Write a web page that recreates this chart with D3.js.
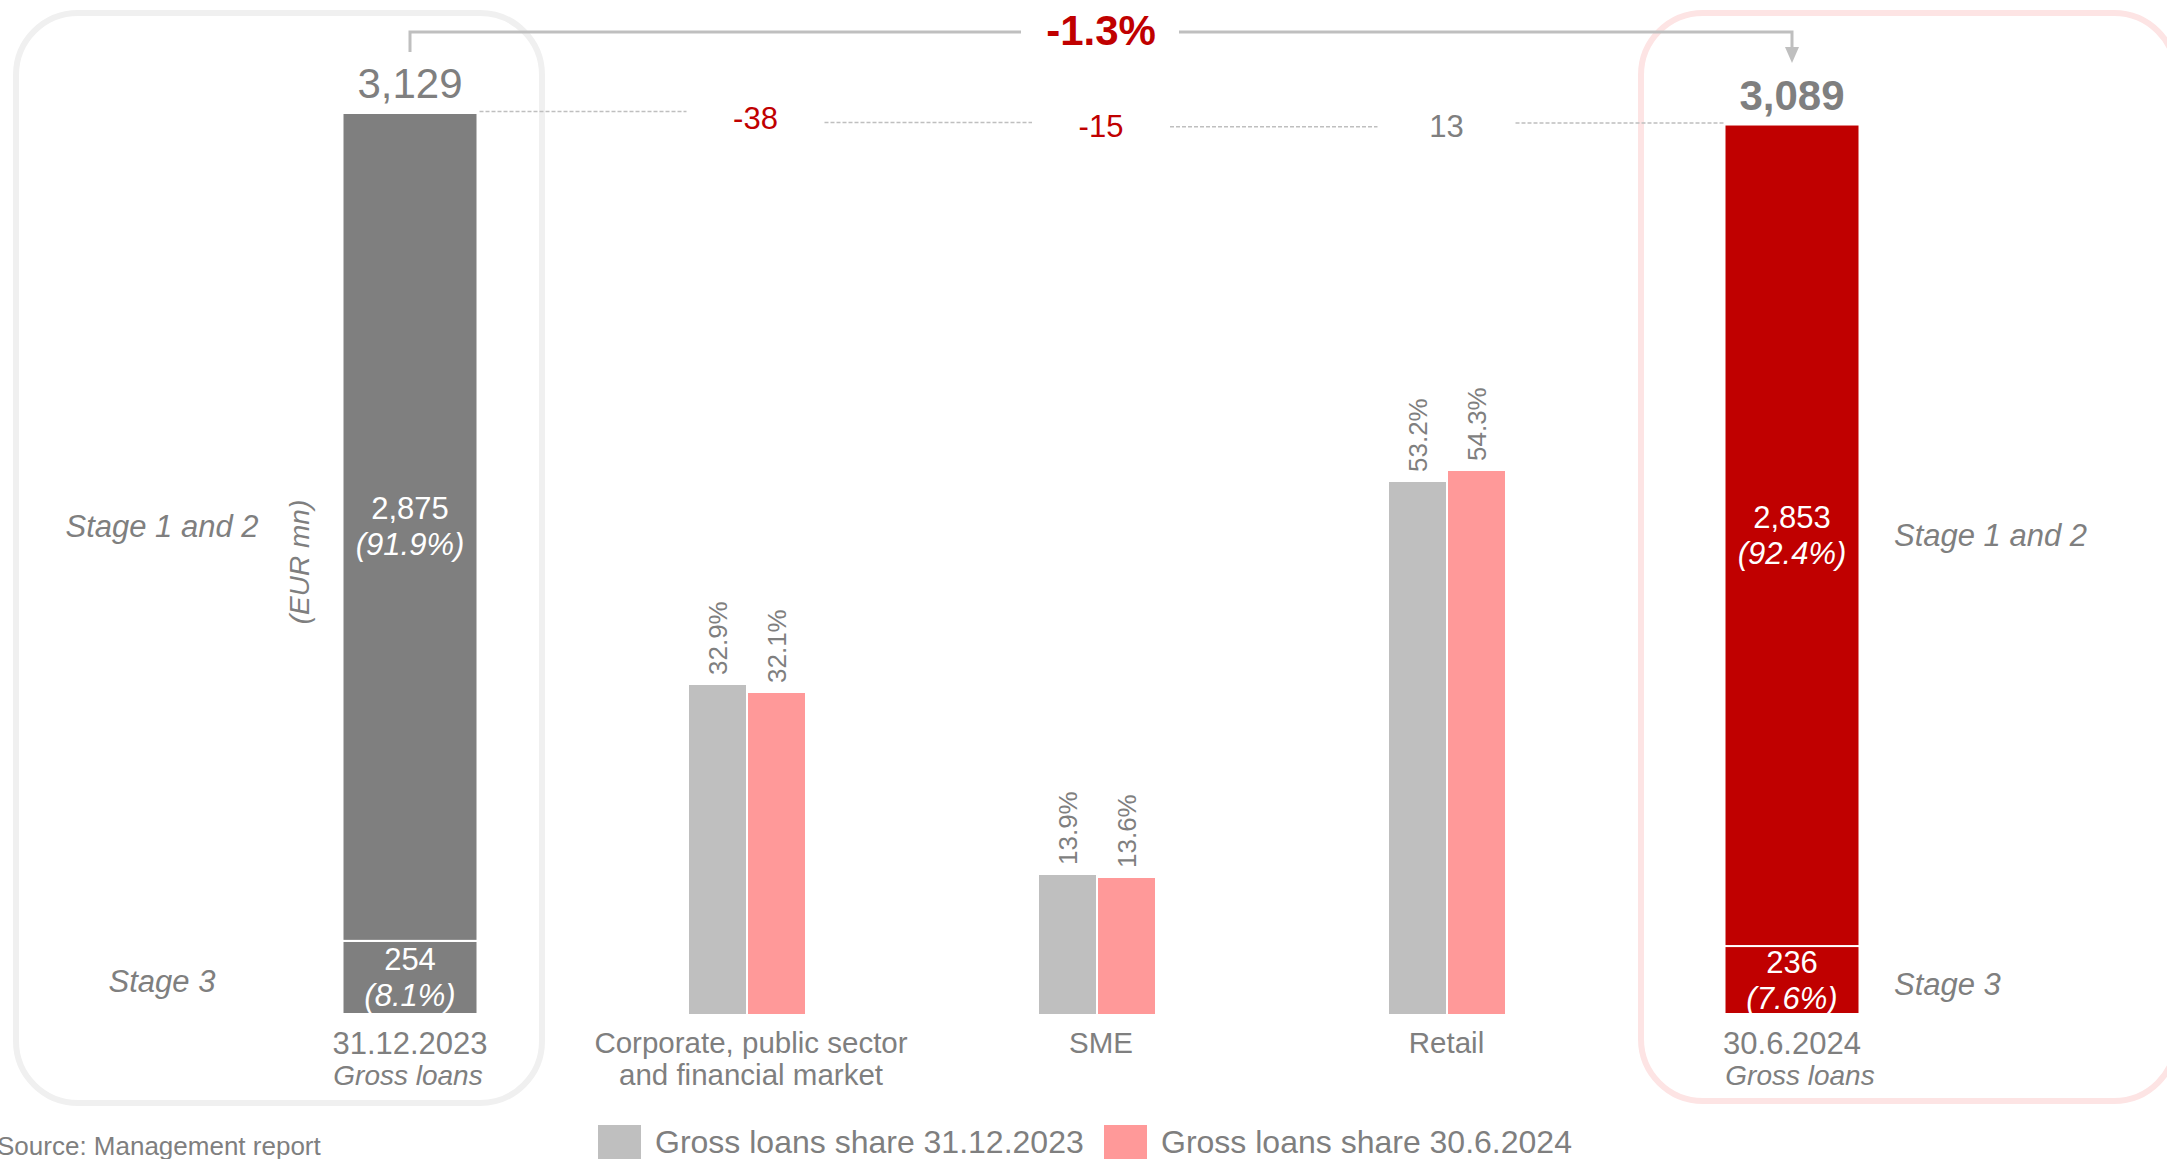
<!DOCTYPE html>
<html>
<head>
<meta charset="utf-8">
<script src="https://cdn.jsdelivr.net/npm/d3@7"></script>
<style>
body { margin: 0; background: #fff; }
text { font-family: "Liberation Sans", Arial, sans-serif; }
</style>
</head>
<body>
<script>
// values
var periods = ["31.12.2023", "30.6.2024"];
var totals = [3129, 3089];
var stage12 = [2875, 2853];
var stage3 = [254, 236];
var stage12Share = ["(91.9%)", "(92.4%)"];
var stage3Share = ["(8.1%)", "(7.6%)"];
var segments = [["Corporate, public sector", "and financial market"], ["SME"], ["Retail"]];
var changes = [-38, -15, 13];
var share2023 = [32.9, 13.9, 53.2];
var share2024 = [32.1, 13.6, 54.3];
var totalChange = "-1.3%";
var legendLabels = ["Gross loans share 31.12.2023", "Gross loans share 30.6.2024"];

var w = 2167;
var h = 1159;
var grey = "#7f7f7f", red = "#c00000", lightGrey = "#bfbfbf", pink = "#ff9999";
var fmt = d3.format(",");

var svg = d3.select("body")
			.append("svg")
			.attr("width", w)
			.attr("height", h);

var segNames = segments.map(function(s){ return s.join(" "); });
var xScale = d3.scalePoint()
				.domain([periods[0]].concat(segNames).concat([periods[1]]))
				.range([410, 1792]);

// the share bars sit on their own, slightly tighter grid
var segScale = d3.scalePoint()
				.domain(segNames)
				.range([747, 1447]);

var yGross = d3.scaleLinear()
				.domain([0, totals[0]])
				.range([1014, 113]);

var yShare = d3.scaleLinear()
				.domain([0, 100])
				.range([1014, 14]);

// rounded frames round the two totals
svg.append("rect")
	.attr("x", 16).attr("y", 13)
	.attr("width", 526).attr("height", 1090)
	.attr("rx", 62).attr("ry", 62)
	.attr("fill", "none")
	.attr("stroke", "#f0f0f0")
	.attr("stroke-width", 6);

svg.append("rect")
	.attr("x", 1641).attr("y", 13)
	.attr("width", 535).attr("height", 1088)
	.attr("rx", 62).attr("ry", 62)
	.attr("fill", "none")
	.attr("stroke", "#fde4e4")
	.attr("stroke-width", 6);

// stacked gross loan bars
var bw = 135;
var stacks = [];
periods.forEach(function(p, i){
	stacks.push({p: p, i: i, v0: 0, v1: stage3[i], label: fmt(stage3[i]), pct: stage3Share[i]});
	stacks.push({p: p, i: i, v0: stage3[i], v1: stage3[i] + stage12[i], label: fmt(stage12[i]), pct: stage12Share[i]});
});

svg.selectAll(".stack")
	.data(stacks)
	.enter()
	.append("rect")
	.attr("class", "stack")
	.attr("x", function(d){ return xScale(d.p) - bw / 2; })
	.attr("y", function(d){ return yGross(d.v1); })
	.attr("width", bw)
	.attr("height", function(d){ return yGross(d.v0) - yGross(d.v1); })
	.attr("fill", function(d){ return d.i === 0 ? grey : red; })
	.attr("stroke", "#fff")
	.attr("stroke-width", 2);

var inBar = svg.selectAll(".inbar")
	.data(stacks)
	.enter()
	.append("g")
	.attr("class", "inbar")
	.attr("transform", function(d){ return "translate(" + xScale(d.p) + "," + (yGross(d.v1) + yGross(d.v0)) / 2 + ")"; });

inBar.append("text")
	.attr("y", -18)
	.attr("text-anchor", "middle")
	.attr("dominant-baseline", "central")
	.attr("fill", "#fff")
	.attr("font-size", 31)
	.text(function(d){ return d.label; });

inBar.append("text")
	.attr("y", 18)
	.attr("text-anchor", "middle")
	.attr("dominant-baseline", "central")
	.attr("fill", "#fff")
	.attr("font-size", 31)
	.attr("font-style", "italic")
	.text(function(d){ return d.pct; });

// stage labels beside the bars
var stageNames = ["Stage 3", "Stage 1 and 2"];
stacks.forEach(function(d, k){
	svg.append("text")
		.attr("x", d.i === 0 ? 162 : 1894)
		.attr("y", (yGross(d.v1) + yGross(d.v0)) / 2 + (k % 2 === 0 ? 4 : 0))
		.attr("text-anchor", d.i === 0 ? "middle" : "start")
		.attr("dominant-baseline", "central")
		.attr("fill", grey)
		.attr("font-size", 31)
		.attr("font-style", "italic")
		.text(stageNames[k % 2]);
});

// totals above bars
svg.selectAll(".total")
	.data(totals)
	.enter()
	.append("text")
	.attr("class", "total")
	.attr("x", function(d, i){ return xScale(periods[i]); })
	.attr("y", function(d){ return yGross(d) - 15; })
	.attr("text-anchor", "middle")
	.attr("fill", grey)
	.attr("font-size", 42)
	.attr("font-weight", function(d, i){ return i === 1 ? "bold" : "normal"; })
	.text(function(d){ return fmt(d); });

svg.append("text")
	.attr("transform", "translate(299,562) rotate(-90)")
	.attr("text-anchor", "middle")
	.attr("dominant-baseline", "central")
	.attr("fill", grey)
	.attr("font-size", 28)
	.attr("font-style", "italic")
	.text("(EUR mn)");

// share bars per segment
var sbw = 57;
var shares = [];
segNames.forEach(function(s, i){
	shares.push({s: s, v: share2023[i], off: -sbw - 1, c: lightGrey});
	shares.push({s: s, v: share2024[i], off: 1, c: pink});
});

svg.selectAll(".share")
	.data(shares)
	.enter()
	.append("rect")
	.attr("class", "share")
	.attr("x", function(d){ return segScale(d.s) + d.off; })
	.attr("y", function(d){ return yShare(d.v); })
	.attr("width", sbw)
	.attr("height", function(d){ return yShare(0) - yShare(d.v); })
	.attr("fill", function(d){ return d.c; });

svg.selectAll(".shareLabel")
	.data(shares)
	.enter()
	.append("text")
	.attr("class", "shareLabel")
	.attr("transform", function(d){ return "translate(" + (segScale(d.s) + d.off + sbw / 2) + "," + (yShare(d.v) - 10) + ") rotate(-90)"; })
	.attr("dominant-baseline", "central")
	.attr("fill", grey)
	.attr("font-size", 26)
	.text(function(d){ return d.v.toFixed(1) + "%"; });

// waterfall bridge
var levels = [totals[0]];
changes.forEach(function(c, i){ levels.push(levels[i] + c); });

var xs = [xScale(periods[0]) + bw / 2];
segNames.forEach(function(s){ xs.push(xScale(s)); });
var xEnd = xScale(periods[1]) - bw / 2;

levels.forEach(function(l, i){
	var x1 = i === 0 ? xs[0] + 2 : xs[i] + 69;
	var x2 = i === levels.length - 1 ? xEnd : xs[i + 1] - 69;
	svg.append("line")
		.attr("x1", x1).attr("x2", x2)
		.attr("y1", yGross(l) - 1.5).attr("y2", yGross(l) - 1.5)
		.attr("stroke", lightGrey)
		.attr("stroke-width", 1.5)
		.attr("stroke-dasharray", "4,2");
});

svg.selectAll(".change")
	.data(changes)
	.enter()
	.append("text")
	.attr("class", "change")
	.attr("x", function(d, i){ return xScale(segNames[i]); })
	.attr("y", function(d, i){ return (yGross(levels[i]) + yGross(levels[i + 1])) / 2; })
	.attr("text-anchor", "middle")
	.attr("dominant-baseline", "central")
	.attr("fill", function(d){ return d < 0 ? red : grey; })
	.attr("font-size", 31)
	.text(function(d){ return String(d); });

// overall change arrow
var xa = xScale(periods[0]), xb = xScale(periods[1]), xm = (xa + xb) / 2;
svg.append("path")
	.attr("d", "M" + xa + ",52V32H" + (xm - 80) + "M" + (xm + 78) + ",32H" + xb + "V50")
	.attr("fill", "none")
	.attr("stroke", lightGrey)
	.attr("stroke-width", 3);

svg.append("path")
	.attr("d", "M" + (xb - 7) + ",47L" + (xb + 7) + ",47L" + xb + ",63Z")
	.attr("fill", lightGrey);

svg.append("text")
	.attr("x", xm)
	.attr("y", 45)
	.attr("text-anchor", "middle")
	.attr("fill", red)
	.attr("font-size", 42)
	.attr("font-weight", "bold")
	.text(totalChange);

// category labels
periods.forEach(function(p, i){
	svg.append("text")
		.attr("x", xScale(p))
		.attr("y", 1054)
		.attr("text-anchor", "middle")
		.attr("fill", grey)
		.attr("font-size", 31)
		.text(p);
	svg.append("text")
		.attr("x", xScale(p) + (i === 0 ? -2 : 8))
		.attr("y", 1085)
		.attr("text-anchor", "middle")
		.attr("fill", grey)
		.attr("font-size", 28)
		.attr("font-style", "italic")
		.text("Gross loans");
});

segments.forEach(function(lines, i){
	lines.forEach(function(t, j){
		svg.append("text")
			.attr("x", lines.length > 1 ? segScale(segNames[i]) + 4 : xScale(segNames[i]))
			.attr("y", 1053 + j * 32)
			.attr("text-anchor", "middle")
			.attr("fill", grey)
			.attr("font-size", 29.5)
			.text(t);
	});
});

// legend
var legend = svg.selectAll(".legend")
	.data(legendLabels)
	.enter()
	.append("g")
	.attr("class", "legend")
	.attr("transform", function(d, i){ return "translate(" + (598 + i * 506) + ",1125)"; });

legend.append("rect")
	.attr("width", 43)
	.attr("height", 43)
	.attr("fill", function(d, i){ return i === 0 ? lightGrey : pink; });

legend.append("text")
	.attr("x", 57)
	.attr("y", 28)
	.attr("fill", grey)
	.attr("font-size", 32)
	.text(function(d){ return d; });

svg.append("text")
	.attr("x", -3)
	.attr("y", 1155)
	.attr("fill", grey)
	.attr("font-size", 26)
	.text("Source: Management report");
</script>
</body>
</html>
